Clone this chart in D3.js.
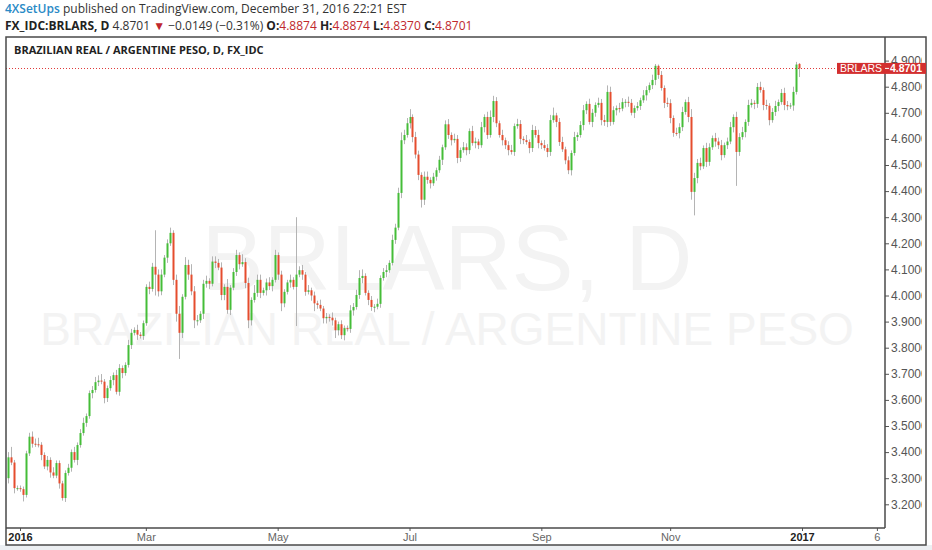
<!DOCTYPE html>
<html>
<head>
<meta charset="utf-8">
<script src="https://cdn.jsdelivr.net/npm/d3@7"></script>
<style>
html,body{margin:0;padding:0;background:#fff;}
svg{display:block;font-family:"Liberation Sans",Arial,sans-serif;}
</style>
</head>
<body>
<svg id="chart" width="932" height="550"></svg>
<script>
// daily closes, Dec 28 2015 .. Dec 30 2016 (weekdays)
const closes = [
	3.380,3.360,3.262,3.262,3.258,3.236,3.395,3.459,3.432,3.430,
	3.428,3.389,3.345,3.370,3.322,3.310,3.358,3.280,3.224,3.320,
	3.340,3.400,3.370,3.427,3.473,3.512,3.538,3.626,3.638,3.668,
	3.674,3.670,3.607,3.645,3.676,3.695,3.631,3.722,3.703,3.734,
	3.810,3.857,3.868,3.850,3.845,3.894,4.033,4.025,4.110,4.080,
	4.016,4.080,4.145,4.200,4.240,4.060,3.930,3.857,3.995,4.117,
	4.080,4.016,3.905,3.905,3.930,4.045,4.056,4.045,4.130,4.125,
	4.107,4.002,4.033,3.945,4.030,4.090,4.155,4.120,4.128,4.048,
	3.905,3.983,4.010,4.060,4.010,4.020,4.050,4.036,4.060,4.155,
	4.080,3.970,4.014,4.050,4.060,4.033,4.080,4.097,4.080,4.014,
	4.020,4.000,3.970,3.964,3.950,3.913,3.918,3.915,3.905,3.867,
	3.890,3.848,3.875,3.872,3.943,3.956,4.002,4.067,4.075,4.010,
	3.983,3.956,3.957,3.968,4.067,4.090,4.097,4.125,4.213,4.260,
	4.393,4.595,4.615,4.660,4.684,4.607,4.540,4.462,4.367,4.455,
	4.443,4.430,4.455,4.480,4.520,4.568,4.656,4.615,4.595,4.600,
	4.527,4.557,4.568,4.557,4.630,4.584,4.590,4.576,4.645,4.684,
	4.615,4.684,4.745,4.660,4.615,4.595,4.576,4.557,4.550,4.649,
	4.657,4.600,4.595,4.588,4.565,4.634,4.615,4.584,4.576,4.565,
	4.550,4.672,4.690,4.665,4.588,4.560,4.518,4.480,4.546,4.607,
	4.615,4.653,4.710,4.734,4.665,4.700,4.730,4.738,4.672,4.665,
	4.780,4.665,4.710,4.718,4.716,4.741,4.742,4.738,4.700,4.718,
	4.726,4.748,4.767,4.787,4.806,4.826,4.880,4.845,4.795,4.738,
	4.737,4.680,4.623,4.622,4.645,4.703,4.741,4.684,4.397,4.450,
	4.508,4.495,4.565,4.512,4.568,4.603,4.590,4.576,4.538,4.576,
	4.590,4.645,4.684,4.550,4.607,4.626,4.665,4.730,4.738,4.734,
	4.799,4.787,4.730,4.727,4.672,4.703,4.726,4.741,4.776,4.730,
	4.725,4.728,4.780,4.885,4.8701
];
// upper / lower wick beyond the body, price units
const wickHi = [
	.02,.04,.01,.01,.01,.01,.01,.015,.02,.02,
	.025,.01,.01,.015,.01,.02,.01,.01,.01,.01,
	.015,.01,.02,.01,.015,.02,.01,.01,.015,.02,
	.02,.025,.01,.01,.015,.01,.02,.015,.01,.01,
	.02,.015,.01,.02,.01,.01,.01,.02,.015,.14,
	.02,.02,.01,.015,.02,.01,.02,.03,.01,.03,
	.02,.04,.02,.02,.01,.015,.02,.01,.02,.02,
	.015,.02,.01,.03,.01,.015,.02,.01,.03,.015,
	.02,.01,.03,.02,.02,.01,.015,.02,.01,.02,
	.01,.015,.01,.01,.02,.01,.22,.015,.02,.01,
	.02,.01,.015,.01,.02,.01,.015,.01,.02,.01,
	.01,.015,.01,.01,.02,.015,.02,.03,.025,.01,
	.01,.015,.01,.02,.01,.015,.02,.01,.02,.015,
	.02,.03,.02,.02,.03,.01,.02,.015,.01,.02,
	.02,.01,.015,.01,.015,.01,.015,.02,.01,.02,
	.015,.01,.02,.015,.01,.02,.015,.01,.02,.01,
	.02,.025,.02,.015,.01,.02,.01,.015,.02,.01,
	.02,.015,.01,.02,.01,.02,.015,.02,.01,.02,
	.015,.02,.03,.01,.015,.02,.01,.015,.01,.02,
	.01,.015,.02,.01,.02,.015,.01,.02,.015,.02,
	.025,.02,.015,.01,.02,.015,.01,.02,.015,.01,
	.015,.01,.02,.015,.01,.02,.007,.005,.015,.01,
	.02,.015,.01,.02,.015,.02,.01,.02,.03,.02,
	.015,.02,.01,.02,.015,.01,.02,.015,.02,.01,
	.015,.02,.01,.02,.015,.02,.01,.02,.015,.01,
	.015,.02,.01,.02,.01,.015,.02,.01,.015,.02,
	.015,.01,.02,.01,.003
];
const wickLo = [
	.02,.01,.02,.01,.01,.025,.01,.01,.015,.01,
	.01,.02,.01,.015,.02,.01,.01,.02,.01,.015,
	.01,.015,.01,.02,.01,.01,.015,.01,.02,.01,
	.015,.01,.02,.015,.01,.02,.01,.015,.02,.01,
	.01,.015,.01,.02,.01,.015,.01,.02,.01,.08,
	.02,.015,.01,.02,.01,.02,.03,.1,.02,.01,
	.02,.015,.03,.02,.01,.02,.015,.02,.01,.02,
	.01,.02,.02,.015,.02,.01,.015,.02,.01,.02,
	.03,.02,.01,.015,.02,.01,.02,.015,.02,.01,
	.02,.03,.015,.01,.02,.01,.15,.01,.02,.015,
	.01,.02,.03,.015,.01,.02,.02,.015,.02,.03,
	.02,.015,.02,.01,.015,.02,.01,.015,.02,.01,
	.02,.015,.02,.01,.015,.01,.02,.01,.01,.015,
	.01,.02,.015,.01,.02,.02,.015,.02,.03,.02,
	.015,.02,.01,.015,.01,.02,.01,.015,.02,.01,
	.02,.015,.01,.02,.015,.01,.02,.015,.01,.02,
	.015,.01,.02,.015,.01,.02,.015,.02,.01,.015,
	.01,.02,.015,.01,.02,.015,.01,.02,.015,.01,
	.02,.015,.01,.02,.015,.01,.015,.015,.02,.01,
	.015,.01,.02,.015,.01,.02,.015,.01,.02,.015,
	.02,.015,.01,.02,.015,.01,.02,.015,.01,.02,
	.01,.015,.01,.02,.01,.015,.02,.015,.01,.02,
	.015,.02,.015,.01,.02,.015,.01,.02,.03,.09,
	.02,.015,.01,.02,.015,.01,.02,.015,.02,.01,
	.015,.01,.02,.13,.015,.01,.02,.015,.01,.02,
	.015,.01,.02,.015,.02,.01,.015,.02,.01,.02,
	.015,.01,.02,.01,.033
];
const firstOpen = 3.30;
const lastOpen = 4.8874;

const priceTicks = [3.2,3.3,3.4,3.5,3.6,3.7,3.8,3.9,4.0,4.1,4.2,4.3,4.4,4.5,4.6,4.7,4.8,4.9];
const tickDates = [new Date(2016,0,1),new Date(2016,2,1),new Date(2016,4,2),new Date(2016,6,1),
	new Date(2016,8,1),new Date(2016,10,1),new Date(2017,0,2),new Date(2017,1,6)];
const tickLabels = ["2016","Mar","May","Jul","Sep","Nov","2017","6"];
const boldLabels = ["2016","2017"];

const upColor = "#45bd38", downColor = "#e54d2e", wickColor = "#b4b4b4";

// weekday calendar the bars sit on
const days = d3.timeDay.range(new Date(2015,11,28), new Date(2017,1,10)).filter(d=>d.getDay()%6!==0);
const dayIndex = d=>days.findIndex(e=>+e===+d);

const candles = closes.map((c,i)=>{
	const o = i===0 ? firstOpen : (i===closes.length-1 ? lastOpen : closes[i-1]);
	return {i, date:days[i], o, c, h:Math.max(o,c)+wickHi[i], l:Math.min(o,c)-wickLo[i]};
});

const box = {l:6, t:37, r:926, b:545};
const plot = {l:6, t:37, r:885, b:528};

const x = d3.scaleLinear().domain([4,265]).range([20,802]);
const y = d3.scaleLinear().domain([3.2,4.9]).range([504.3,60.6]);

const svg = d3.select('#chart');

svg.append('rect').attr('x',0).attr('y',box.b).attr('width',932).attr('height',550-box.b).style('fill','#eceff2');

const defs = svg.append('defs');
defs.append('clipPath').attr('id','plotClip')
	.append('rect').attr('x',plot.l).attr('y',plot.t).attr('width',plot.r-plot.l).attr('height',plot.b-plot.t);
defs.append('clipPath').attr('id','axisClip')
	.append('rect').attr('x',plot.r).attr('y',box.t).attr('width',922-plot.r).attr('height',box.b-box.t);

//watermark
const wm = svg.append('g').attr('clip-path','url(#plotClip)').style('fill','#f3f3f3');
wm.append('text').attr('x',447).attr('y',290).attr('text-anchor','middle')
	.style('font-size','93px').text('BRLARS, D');
wm.append('text').attr('x',447).attr('y',345).attr('text-anchor','middle')
	.style('font-size','46px').text('BRAZILIAN REAL / ARGENTINE PESO');

//candles
const g = svg.append('g').attr('clip-path','url(#plotClip)');
const bars = g.selectAll('.candle')
	.data(candles)
	.enter()
	.append('g').attr('class','candle');
bars.append('line')
	.attr('x1',d=>Math.round(x(d.i))+0.5).attr('x2',d=>Math.round(x(d.i))+0.5)
	.attr('y1',d=>y(d.h)).attr('y2',d=>y(d.l))
	.style('stroke',wickColor).style('stroke-width',1);
bars.append('rect')
	.attr('x',d=>Math.round(x(d.i))-0.5)
	.attr('width',2)
	.attr('y',d=>y(Math.max(d.o,d.c)))
	.attr('height',d=>Math.max(1,Math.abs(y(d.o)-y(d.c))))
	.style('fill',d=>d.c>=d.o?upColor:downColor);

//last price line
const last = candles[candles.length-1];
svg.append('line')
	.attr('x1',plot.l).attr('x2',837)
	.attr('y1',Math.round(y(last.c))+0.5).attr('y2',Math.round(y(last.c))+0.5)
	.style('stroke','#e03a3a').style('stroke-width',1).style('stroke-dasharray','1,2');

//y axis, labels cut by the frame like the original
const yAxis = d3.axisRight(y).tickValues(priceTicks).tickFormat(d3.format('.4f')).tickSize(4).tickPadding(2);
const ya = svg.append('g')
	.attr('clip-path','url(#axisClip)')
	.append('g')
	.attr('transform',`translate(${plot.r},0)`)
	.call(yAxis);
ya.select('.domain').remove();
ya.selectAll('.tick line').style('stroke','#555');
ya.selectAll('.tick text').style('fill','#555').style('font-size','12px');

//x axis
const tickIdx = tickDates.map(dayIndex);
const xAxis = d3.axisBottom(x).tickValues(tickIdx).tickFormat((d,i)=>tickLabels[i]).tickSize(3).tickPadding(2);
const xa = svg.append('g')
	.attr('transform',`translate(0,${plot.b})`)
	.call(xAxis);
xa.select('.domain').remove();
xa.selectAll('.tick line').style('stroke','#555');
xa.selectAll('.tick text')
	.style('fill',d=>boldLabels.includes(tickLabels[tickIdx.indexOf(d)])?'#222':'#666')
	.style('font-weight',d=>boldLabels.includes(tickLabels[tickIdx.indexOf(d)])?'bold':'normal')
	.style('font-size','11px');

//frame
svg.append('rect').attr('x',box.l).attr('y',box.t).attr('width',box.r-box.l).attr('height',box.b-box.t)
	.style('fill','none').style('stroke','#4a4a4a').style('stroke-width',1.5);
svg.append('line').attr('x1',plot.r).attr('x2',plot.r).attr('y1',box.t).attr('y2',plot.b)
	.style('stroke','#4a4a4a').style('stroke-width',1.5);
svg.append('line').attr('x1',box.l).attr('x2',plot.r).attr('y1',plot.b).attr('y2',plot.b)
	.style('stroke','#4a4a4a').style('stroke-width',1.5);

//price label
const py = y(last.c);
svg.append('rect').attr('x',837).attr('y',py-5.5).attr('width',box.r-837).attr('height',11).style('fill','#d32f2f');
svg.append('line').attr('x1',plot.r).attr('x2',plot.r+4).attr('y1',py).attr('y2',py).style('stroke','#fff');
svg.append('text').attr('x',861).attr('y',py+3.8).attr('text-anchor','middle')
	.style('fill','#fff').style('font-size','10.5px').text('BRLARS');
svg.append('text').attr('x',906).attr('y',py+3.8).attr('text-anchor','middle')
	.style('fill','#fff').style('font-size','10.5px').style('font-weight','bold').text(d3.format('.4f')(last.c));

//header
const hdr = svg.append('g').style('font-family','"Open Sans",sans-serif').style('font-size','12px').style('fill','#333');
const l1 = hdr.append('text').attr('x',5).attr('y',12.5);
l1.append('tspan').style('fill','#2a8ac6').style('font-weight','600').text('4XSetUps');
l1.append('tspan').text(' published on TradingView.com, December 31, 2016 22:21 EST');
const l2 = hdr.append('text').attr('x',5).attr('y',29.5).style('font-size','12px');
const red = '#c0282d';
l2.append('tspan').style('font-weight','bold').style('fill','#222').text('FX_IDC:BRLARS, D');
l2.append('tspan').text(' 4.8701 ');
l2.append('tspan').style('fill',red).text('▼');
l2.append('tspan').text(' \u22120.0149 (\u22120.31%) ');
[['O:','4.8874'],['H:','4.8874'],['L:','4.8370'],['C:','4.8701']].forEach(([k,v],i)=>{
	l2.append('tspan').style('font-weight','bold').style('fill','#222').text((i?' ':'')+k);
	l2.append('tspan').style('fill',red).text(v);
});
svg.append('text').attr('x',14).attr('y',54)
	.style('font-family','"Open Sans",sans-serif').style('font-size','11px').style('font-weight','bold').style('fill','#222')
	.text('BRAZILIAN REAL / ARGENTINE PESO, D, FX_IDC');
</script>
</body>
</html>
